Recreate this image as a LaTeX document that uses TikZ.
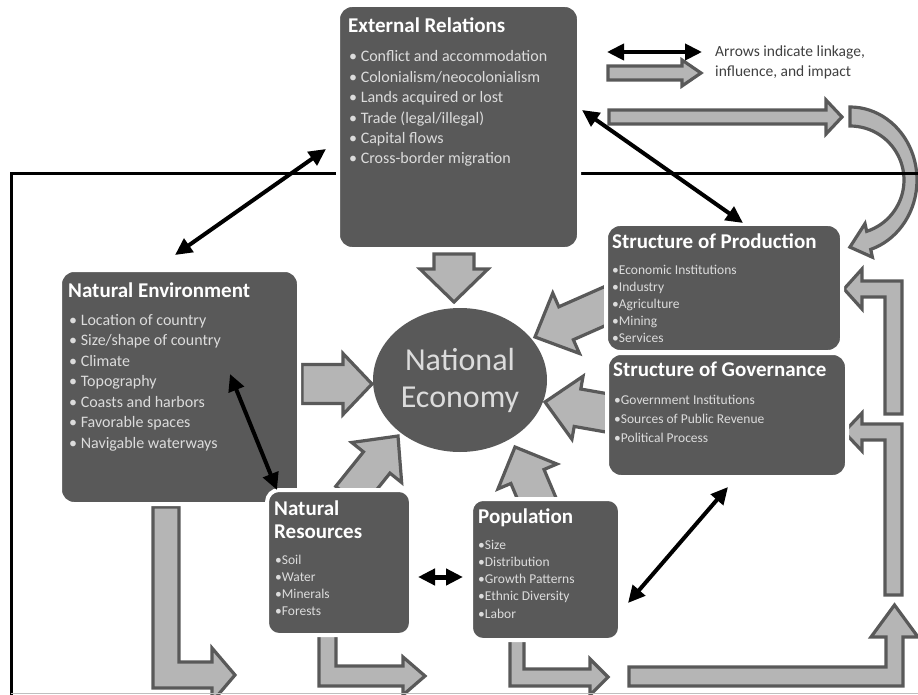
\documentclass[tikz,border=0pt]{standalone}
\usepackage{fontspec}
\setmainfont{Carlito}
\usetikzlibrary{arrows.meta,calc,shapes.geometric}

\definecolor{boxgray}{RGB}{89,89,89}
\definecolor{fatfill}{RGB}{181,181,181}
\definecolor{itemgray}{RGB}{220,220,220}
\definecolor{legendgray}{RGB}{64,64,64}

\pgfdeclarelayer{back}
\pgfsetlayers{back,main}

\tikzset{
  box/.style={rectangle, rounded corners=14pt, fill=boxgray, draw=white, line width=4pt, outer sep=0pt, inner sep=0pt},
  ttl/.style={anchor=base west, inner sep=0pt, text=white, font=\fontsize{21}{25}\selectfont\bfseries},
  bigitem/.style={anchor=base west, inner sep=0pt, text=itemgray, font=\fontsize{16}{20}\selectfont},
  smallitem/.style={anchor=base west, inner sep=0pt, text=itemgray, font=\fontsize{13.5}{16}\selectfont},
  fat/.style={fill=fatfill, draw=boxgray, line width=3.2pt},
  link/.style={{Triangle[length=17pt,width=16pt]}-{Triangle[length=17pt,width=16pt]}, line width=4pt, black},
}

% broad arrow: from, to, half body, half head, head length
\newcommand{\fatarrow}[5]{%
  \coordinate (fa-b) at ($(#2)!#5!(#1)$);
  \draw[fat] ($(#1)!#3!90:(#2)$) -- ($(fa-b)!#3!-90:(#1)$) -- ($(fa-b)!#4!-90:(#1)$) -- (#2)
    -- ($(fa-b)!#4!90:(#1)$) -- ($(fa-b)!#3!90:(#1)$) -- ($(#1)!#3!-90:(#2)$) -- cycle;
}

\begin{document}
\begin{tikzpicture}[x=1pt,y=-1pt]
\useasboundingbox (0,0) rectangle (918,695);

% frame
\draw[line width=3pt] (11,695) -- (11,174) -- (918,174);
\draw[gray!50] (11,693) -- (918,693);

% national economy
\node[ellipse, fill=boxgray, minimum width=174pt, minimum height=144pt, inner sep=0pt, text=itemgray, font=\fontsize{32}{37}\selectfont, align=center] (econ) at (460,380) {National\\Economy};

% boxes
\node[box, minimum width=241pt, minimum height=244pt] (er) at (458.5,127) {};
\node[box, minimum width=239pt, minimum height=234pt] (ne) at (179.5,387) {};
\node[box, minimum width=236pt, minimum height=128pt] (prod) at (724,288) {};
\node[box, minimum width=240pt, minimum height=124pt] (gov) at (727,415) {};
\node[box, rounded corners=12pt, minimum width=144pt, minimum height=145pt] (nr) at (339,562.5) {};
\node[box, rounded corners=12pt, minimum width=149pt, minimum height=141pt] (pop) at (545.5,569.5) {};

% box texts
\node[ttl] (er-t) at ($(er.north west)+(10,28)$) {External Relations};
\foreach \t [count=\i] in {Conflict and accommodation, Colonialism/neocolonialism, Lands acquired or lost, Trade (legal/illegal), Capital flows, Cross-border migration}
  \node[bigitem] (er-\i) at ($(er.north west)+(11,{36.5+20.4*\i})$) {• \t};

\node[ttl] (ne-t) at ($(ne.north west)+(8,27)$) {Natural Environment};
\foreach \t [count=\i] in {Location of country, Size/shape of country, Climate, Topography, Coasts and harbors, Favorable spaces, Navigable waterways}
  \node[bigitem] (ne-\i) at ($(ne.north west)+(9,{34.5+20.5*\i})$) {• \t};

\node[ttl] (prod-t) at ($(prod.north west)+(6,24)$) {Structure of Production};
\foreach \t [count=\i] in {Economic Institutions, Industry, Agriculture, Mining, Services}
  \node[smallitem] (prod-\i) at ($(prod.north west)+(6,{32.8+17.2*\i})$) {•\t};

\node[ttl] (gov-t) at ($(gov.north west)+(6,23)$) {Structure of Governance};
\foreach \t [count=\i] in {Government Institutions, Sources of Public Revenue, Political Process}
  \node[smallitem] (gov-\i) at ($(gov.north west)+(7,{32+19*\i})$) {•\t};

\node[ttl] (nr-t1) at ($(nr.north west)+(7,25)$) {Natural};
\node[ttl] (nr-t2) at ($(nr.north west)+(7,48)$) {Resources};
\foreach \t [count=\i] in {Soil, Water, Minerals, Forests}
  \node[smallitem] (nr-\i) at ($(nr.north west)+(8,{56.7+17.3*\i})$) {•\t};

\node[ttl] (pop-t) at ($(pop.north west)+(7,24)$) {Population};
\foreach \t [count=\i] in {Size, Distribution, Growth Patterns, Ethnic Diversity, Labor}
  \node[smallitem] (pop-\i) at ($(pop.north west)+(7,{32.7+17.3*\i})$) {•\t};

% legend
\node[anchor=base west, inner sep=0pt, text=legendgray, font=\fontsize{15.5}{20}\selectfont] (leg1) at (715,57) {Arrows indicate linkage,};
\node[anchor=base west, inner sep=0pt, text=legendgray, font=\fontsize{15.5}{20}\selectfont] (leg2) at (715,77) {influence, and impact};
\coordinate (lk-a) at ($(leg1.base west)+(-108,-5)$);
\coordinate (lk-b) at ($(leg1.base west)+(-13,-5)$);
\draw[link] (lk-a) -- (lk-b);

% broad arrows
\begin{pgfonlayer}{back}
\coordinate (lg-a) at ($(leg2.base west)+(-107,-4)$);
\coordinate (lg-b) at ($(leg2.base west)+(-14,-4)$);
\fatarrow{lg-a}{lg-b}{7pt}{13pt}{19pt}
\coordinate (top-a) at (609,117);
\coordinate (top-b) at (842,117);
\fatarrow{top-a}{top-b}{7pt}{17pt}{16pt}

\coordinate (a-er1) at ($(er.south)+(-4.5,5)$);
\coordinate (a-er2) at ($(econ)+(-6,-78)$);
\fatarrow{a-er1}{a-er2}{20pt}{34pt}{33pt}
\coordinate (a-ne1) at ($(ne.east)+(3,-3)$);
\coordinate (a-ne2) at ($(econ)+(-88,4)$);
\fatarrow{a-ne1}{a-ne2}{19.5pt}{30.5pt}{29pt}
\coordinate (a-pr1) at ($(prod.west)+(6,15)$);
\coordinate (a-pr2) at ($(econ)+(75,-43)$);
\fatarrow{a-pr1}{a-pr2}{18pt}{33pt}{34pt}
\coordinate (a-gv1) at ($(gov.west)+(6,-1)$);
\coordinate (a-gv2) at ($(econ)+(85,22)$);
\fatarrow{a-gv1}{a-gv2}{19pt}{32pt}{33pt}
\coordinate (a-nr1) at ($(nr.north)+(10,7)$);
\coordinate (a-nr2) at ($(econ)+(-62,56)$);
\fatarrow{a-nr1}{a-nr2}{17pt}{32pt}{34pt}
\coordinate (a-pp1) at ($(pop.north)+(-6,6)$);
\coordinate (a-pp2) at ($(econ)+(55,67)$);
\fatarrow{a-pp1}{a-pp2}{18pt}{32pt}{32pt}

% bent arrows
\draw[fat] (153,507) -- (179,507) -- (179,662) -- (212,662) -- (212,648) -- (235,675) -- (212,702) -- (212,688) -- (153,688) -- cycle;
\draw[fat] (319,633) -- (336,633) -- (336,666) -- (403,666) -- (403,657) -- (425,676) -- (403,695) -- (403,686) -- (319,686) -- cycle;
\draw[fat] (510,638) -- (524,638) -- (524,669) -- (590,669) -- (590,659) -- (608,677) -- (590,695) -- (590,686) -- (510,686) -- cycle;
\draw[fat] (629,686) -- (903,686) -- (903,637) -- (918,637) -- (894.5,605) -- (871,637) -- (886,637) -- (886,667) -- (629,667) -- cycle;
\draw[fat] (885,595) -- (902,595) -- (902,424) -- (862,424) -- (862,413) -- (844,432) -- (862,451) -- (862,440) -- (885,440) -- cycle;
\draw[fat] (885,414) -- (902,414) -- (902,281) -- (862,281) -- (862,269) -- (844,289) -- (862,309) -- (862,297) -- (885,297) -- cycle;

% curved arrow
\draw[fat] plot[domain=90:-72, samples=40, variable=\t] ({850+67*cos(\t)},{180-73*sin(\t)})
  -- (872.4,257.2) -- (849.9,247.1) -- (865,223.6)
  -- plot[domain=-72:90, samples=40, variable=\t] ({850+54*cos(\t)},{180-54*sin(\t)}) -- cycle;
\end{pgfonlayer}

% linkages
\coordinate (l-er-ne1) at ($(er.west)+(-12,22)$);
\coordinate (l-er-ne2) at ($(ne.north)+(-4.5,-15)$);
\draw[link] (l-er-ne1) -- (l-er-ne2);
\coordinate (l-er-pr1) at ($(er.east)+(3,-17)$);
\coordinate (l-er-pr2) at ($(prod.north)+(19,-1)$);
\draw[link] (l-er-pr1) -- (l-er-pr2);
\coordinate (l-ne-nr1) at ($(ne.center)+(50.5,-13)$);
\coordinate (l-ne-nr2) at ($(nr.north west)+(10,0)$);
\draw[link] (l-ne-nr1) -- (l-ne-nr2);
\coordinate (l-nr-pp1) at ($(nr.east)+(7,14.5)$);
\coordinate (l-nr-pp2) at ($(pop.west)+(-8,7.5)$);
\draw[link, line width=5pt] (l-nr-pp1) -- (l-nr-pp2);
\coordinate (l-pp-gv1) at ($(pop.east)+(8,33.5)$);
\coordinate (l-pp-gv2) at ($(gov.south)+(1,10)$);
\draw[link] (l-pp-gv1) -- (l-pp-gv2);
\end{tikzpicture}
\end{document}
